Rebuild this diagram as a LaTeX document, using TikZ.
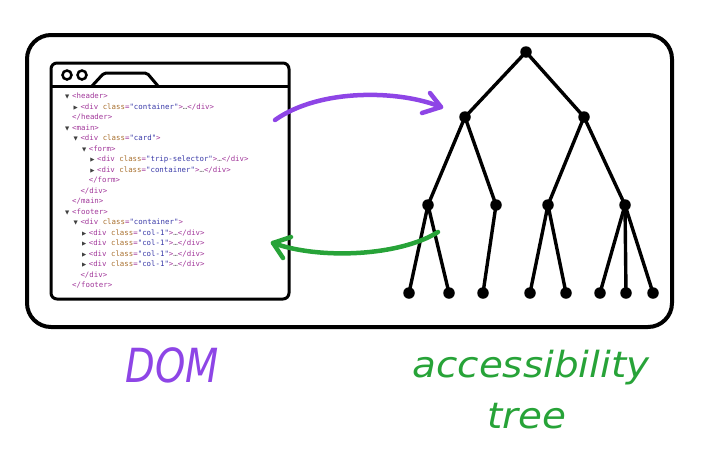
\documentclass[tikz,border=0pt]{standalone}
\usepackage{fontspec}
\setmainfont{DejaVu Sans}
\newfontfamily\codefont{DejaVu Sans Mono}
\newfontfamily\symfont{DejaVu Sans}
\definecolor{tagc}{HTML}{A1379A}
\definecolor{attc}{HTML}{A8702F}
\definecolor{valc}{HTML}{3A3AA8}
\definecolor{dotsc}{HTML}{777777}
\definecolor{dompurple}{HTML}{8E45E6}
\definecolor{treegreen}{HTML}{27A338}
\newcommand\Tg[1]{\textcolor{tagc}{#1}}
\newcommand\At[1]{\textcolor{attc}{#1}}
\newcommand\Va[1]{\textcolor{valc}{#1}}
\newcommand\Dv[2]{\Tg{<div }\At{class}\Tg{=}\Va{"#1"}\Tg{>}#2}
\newcommand\El{\textcolor{dotsc}{…}}
\tikzset{
  code/.style={font=\codefont\fontsize{7.4}{8}\selectfont, inner sep=0pt, anchor=base west},
  tri/.style={font=\symfont\fontsize{5.5}{6}\selectfont, inner sep=0pt, anchor=base west, text=black!75},
  dot/.style={circle, fill=black, inner sep=0pt, minimum size=11.5pt},
  edge/.style={line width=3.4pt, line cap=round},
  frame/.style={draw, line width=4pt, rounded corners=24pt, inner sep=0pt},
  window/.style={draw, line width=3pt, rounded corners=6pt, inner sep=0pt},
  arr/.style={line width=4.5pt, line cap=round, line join=round},
  label/.style={anchor=base, inner sep=0pt},
}
\begin{document}
\begin{tikzpicture}[x=1pt,y=-1pt]
\useasboundingbox (0,0) rectangle (706,464);
% outer frame
\node[frame, minimum width=645pt, minimum height=292pt] (frame) at (349.5,181) {};
% browser window
\node[window, minimum width=238pt, minimum height=236pt] (win) at (170,181) {};
\coordinate (barL) at (51,86);
\coordinate (barR) at (289,86);
\draw[line width=3pt] (barL) -- (barR);
\coordinate (tab1) at (92,86);
\coordinate (tab2) at (104,73);
\coordinate (tab3) at (147,73);
\coordinate (tab4) at (158,86);
\draw[line width=3pt, line join=round, rounded corners=2pt] (tab1) -- (tab2) -- (tab3) -- (tab4);
\node[circle, draw, line width=2.5pt, minimum size=9pt, inner sep=0pt] (b1) at (67,75) {};
\node[circle, draw, line width=2.5pt, minimum size=9pt, inner sep=0pt] (b2) at (82,75) {};
% code lines
\node[tri] (t1) at (65,98.5) {▼};
\node[code] (c1) at (72,98.5) {\Tg{<header>}};
\node[tri] (t2) at (73.5,109) {▶};
\node[code] (c2) at (80.3,109) {\Dv{container}{\El\Tg{</div>}}};
\node[code] (c3) at (72,119.5) {\Tg{</header>}};
\node[tri] (t4) at (65,130) {▼};
\node[code] (c4) at (72,130) {\Tg{<main>}};
\node[tri] (t5) at (73.5,140.5) {▼};
\node[code] (c5) at (80.3,140.5) {\Dv{card}{}};
\node[tri] (t6) at (82,151) {▼};
\node[code] (c6) at (88.6,151) {\Tg{<form>}};
\node[tri] (t7) at (90.2,161.5) {▶};
\node[code] (c7) at (96.9,161.5) {\Dv{trip-selector}{\El\Tg{</div>}}};
\node[tri] (t8) at (90.2,172) {▶};
\node[code] (c8) at (96.9,172) {\Dv{container}{\El\Tg{</div>}}};
\node[code] (c9) at (88.6,182.5) {\Tg{</form>}};
\node[code] (c10) at (80.3,193) {\Tg{</div>}};
\node[code] (c11) at (72,203.5) {\Tg{</main>}};
\node[tri] (t12) at (65,214) {▼};
\node[code] (c12) at (72,214) {\Tg{<footer>}};
\node[tri] (t13) at (73.5,224.5) {▼};
\node[code] (c13) at (80.3,224.5) {\Dv{container}{}};
\node[tri] (t14) at (82,235) {▶};
\node[code] (c14) at (88.6,235) {\Dv{col-1}{\El\Tg{</div>}}};
\node[tri] (t15) at (82,245.5) {▶};
\node[code] (c15) at (88.6,245.5) {\Dv{col-1}{\El\Tg{</div>}}};
\node[tri] (t16) at (82,256) {▶};
\node[code] (c16) at (88.6,256) {\Dv{col-1}{\El\Tg{</div>}}};
\node[tri] (t17) at (82,266.5) {▶};
\node[code] (c17) at (88.6,266.5) {\Dv{col-1}{\El\Tg{</div>}}};
\node[code] (c18) at (80.3,277) {\Tg{</div>}};
\node[code] (c19) at (72,287.5) {\Tg{</footer>}};
% tree
\node[dot] (r) at (526,52) {};
\node[dot] (a) at (465,117) {};
\node[dot] (b) at (584,117) {};
\node[dot] (a1) at (428,205) {};
\node[dot] (a2) at (496,205) {};
\node[dot] (b1) at (548,205) {};
\node[dot] (b2) at (625,205) {};
\node[dot] (l1) at (409,293) {};
\node[dot] (l2) at (449,293) {};
\node[dot] (l3) at (483,293) {};
\node[dot] (l4) at (530,293) {};
\node[dot] (l5) at (566,293) {};
\node[dot] (l6) at (600,293) {};
\node[dot] (l7) at (626,293) {};
\node[dot] (l8) at (653,293) {};
\draw[edge] (r.center) -- (a.center);
\draw[edge] (r.center) -- (b.center);
\draw[edge] (a.center) -- (a1.center);
\draw[edge] (a.center) -- (a2.center);
\draw[edge] (b.center) -- (b1.center);
\draw[edge] (b.center) -- (b2.center);
\draw[edge] (a1.center) -- (l1.center);
\draw[edge] (a1.center) -- (l2.center);
\draw[edge] (a2.center) -- (l3.center);
\draw[edge] (b1.center) -- (l4.center);
\draw[edge] (b1.center) -- (l5.center);
\draw[edge] (b2.center) -- (l6.center);
\draw[edge] (b2.center) -- (l7.center);
\draw[edge] (b2.center) -- (l8.center);
% purple arrow
\coordinate (ps) at (275,120);
\coordinate (pe) at (441,107);
\coordinate (ph1) at (430,93);
\coordinate (ph2) at (422,113);
\draw[arr, dompurple] (ps) .. controls (320,88) and (400,90) .. (pe);
\draw[arr, dompurple] (ph1) -- (pe) -- (ph2);
% green arrow
\coordinate (gs) at (438,232);
\coordinate (ge) at (273,243);
\coordinate (gh1) at (291,237);
\coordinate (gh2) at (283,258);
\draw[arr, treegreen] (gs) .. controls (400,256) and (320,260) .. (ge);
\draw[arr, treegreen] (gh1) -- (ge) -- (gh2);
% labels
\node[label, text=dompurple, font=\itshape\fontsize{47}{50}\selectfont] (dom) at (172,382) {\scalebox{0.82}[1]{DOM}};
\node[label, text=treegreen, font=\itshape\fontsize{36}{40}\selectfont] (acc) at (531,377) {\scalebox{1.08}[1]{accessibility}};
\node[label, text=treegreen, font=\itshape\fontsize{36}{40}\selectfont] (tree) at (527,428) {\scalebox{1.08}[1]{tree}};
\end{tikzpicture}
\end{document}
